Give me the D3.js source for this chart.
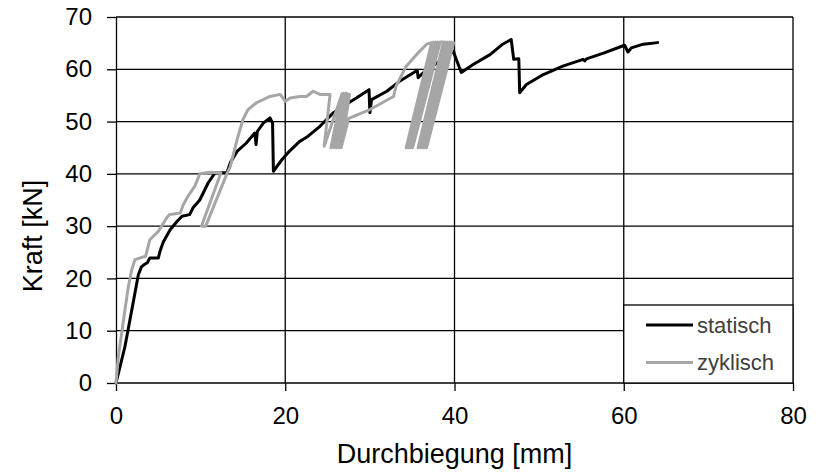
<!DOCTYPE html>
<html>
<head>
<meta charset="utf-8">
<script src="https://cdn.jsdelivr.net/npm/d3@7"></script>
<style>
  html, body { margin: 0; padding: 0; background: #fff; }
  svg { display: block; font-family: Arial, "Liberation Sans", sans-serif; }
</style>
</head>
<body>
<div id="chart"></div>
<script>
// Kraft-Durchbiegungs-Kurven, statisch vs. zyklisch
const xTicks = [0, 20, 40, 60, 80];
const yTicks = [0, 10, 20, 30, 40, 50, 60, 70];

// statisch (schwarz)
const statischWeg = [0, 0.47, 1.06, 1.65, 2.24, 2.64, 3.0, 3.3, 3.7, 4.0, 5.0, 5.2, 5.6, 6.4, 7.2, 7.8, 8.7, 9.1, 9.9, 10.9,
  11.7, 13.1, 13.5, 14.3, 15.4, 16.4, 16.55, 16.7, 17.4, 18.2, 18.5, 18.6, 19.6, 20.3, 21.7, 22.7, 24.1, 25.7, 26.8, 28.4,
  29.9, 30.0, 30.2, 32.0, 33.5, 35.1, 35.6, 35.7, 36.3, 37.1, 38.3, 39.6, 39.9, 40.0, 40.8, 42.2, 44.2, 45.7, 46.7, 46.8,
  47.0, 47.6, 47.7, 48.5, 50.5, 52.8, 55.2, 55.4, 55.6, 57.6, 60.1, 60.5, 60.9, 62.3, 64.0];
const statischKraft = [0, 3.1, 7.0, 12.1, 17.2, 20.7, 22.2, 22.6, 23.0, 23.9, 23.9, 25.2, 27.0, 29.3, 30.9, 31.9, 32.2, 33.5, 35.0, 38.3,
  40.2, 40.2, 42.1, 44.3, 45.9, 47.8, 45.6, 48.1, 49.7, 50.7, 49.7, 40.5, 42.7, 44.0, 46.2, 47.2, 49.1, 51.7, 52.9, 54.5,
  56.1, 51.7, 54.2, 55.8, 57.7, 59.3, 59.8, 58.4, 59.3, 60.3, 61.6, 63.1, 63.5, 62.8, 59.4, 60.9, 62.8, 64.8, 65.7, 64.4,
  61.9, 62.0, 55.5, 57.1, 59.0, 60.6, 61.9, 61.6, 62.0, 63.1, 64.6, 63.3, 64.1, 64.8, 65.1];

// zyklisch (grau), mit Ent- und Wiederbelastungen
const zyklischWeg = [0, 0.27, 0.67, 1.06, 1.46, 1.85, 2.24, 3.2, 3.5, 4.0, 5.0, 6.0, 6.3, 7.6, 7.95, 8.5, 9.3, 9.9, 11.1, 12.4,
  10.1, 10.6, 13.1, 13.5, 14.3, 15.0, 15.6, 16.6, 18.2, 19.4, 20.0, 20.6, 21.7, 22.5, 23.3, 24.1, 25.3,
  24.6, 26.7, 25.4, 26.9, 25.7, 27.2, 26.0, 27.4, 26.3, 27.6, 26.6, 27.5, 30.0, 32.8, 33.1, 34.3, 35.5, 36.7, 37.3,
  34.3, 37.55, 34.55, 37.8, 34.8, 38.05, 35.05, 38.3, 38.7,
  35.7, 38.9, 35.95, 39.15, 36.2, 39.4, 36.45, 39.65, 36.7, 39.9];
const zyklischKraft = [0, 5.0, 9.5, 14.0, 18.4, 21.6, 23.6, 24.1, 24.2, 27.4, 29.0, 31.6, 32.2, 32.5, 34.1, 35.7, 37.6, 40.0, 40.3, 40.2,
  30.0, 30.0, 40.0, 41.4, 46.5, 50.4, 52.3, 53.6, 54.8, 55.2, 53.9, 54.5, 54.8, 54.8, 55.8, 55.2, 55.2,
  45.3, 55.3, 45.0, 55.4, 45.0, 55.4, 45.0, 55.3, 45.0, 55.2, 45.0, 50.6, 52.3, 54.8, 56.8, 60.6, 62.8, 64.8, 65.1,
  45.0, 65.2, 45.0, 65.2, 45.0, 65.2, 45.0, 65.2, 65.2,
  45.0, 65.2, 45.0, 65.2, 45.0, 65.2, 45.0, 65.2, 45.0, 65.1];

const seriesNames = ["statisch", "zyklisch"];
const seriesColors = ["#000000", "#a6a6a6"];

const W = 826, H = 472;
const plot = { left: 116, right: 793, top: 17, bottom: 383 };

const svg = d3.select('#chart').append('svg')
  .attr('width', W)
  .attr('height', H);

const x = d3.scaleLinear().domain([0, 80]).range([plot.left, plot.right]);
const y = d3.scaleLinear().domain([0, 70]).range([plot.bottom, plot.top]);

// Gitter
const grid = svg.append('g').attr('stroke', '#000').attr('stroke-width', 1.3);
grid.selectAll('line.h').data(yTicks.slice(1)).join('line')
  .attr('class', 'h')
  .attr('x1', plot.left).attr('x2', plot.right)
  .attr('y1', d => y(d)).attr('y2', d => y(d));
grid.selectAll('line.v').data(xTicks.slice(1)).join('line')
  .attr('class', 'v')
  .attr('x1', d => x(d)).attr('x2', d => x(d))
  .attr('y1', plot.top).attr('y2', plot.bottom);

// Achsen
const yAxis = svg.append('g')
  .attr('transform', `translate(${plot.left},0)`)
  .call(d3.axisLeft(y).tickValues(yTicks).tickSize(9).tickPadding(15).tickSizeOuter(0));
const xAxis = svg.append('g')
  .attr('transform', `translate(0,${plot.bottom})`)
  .call(d3.axisBottom(x).tickValues(xTicks).tickSize(8).tickPadding(16).tickSizeOuter(0));

[xAxis, yAxis].forEach(a => {
  a.select('.domain').attr('stroke', '#000').attr('stroke-width', 1.3);
  a.selectAll('.tick line').attr('stroke', '#000').attr('stroke-width', 1.3);
  a.selectAll('.tick text')
    .attr('fill', '#000')
    .attr('font-size', 24)
    .attr('font-family', 'Arial, "Liberation Sans", sans-serif');
});
xAxis.select('.domain').remove();
svg.append('line')
  .attr('x1', plot.left).attr('x2', plot.right)
  .attr('y1', plot.bottom).attr('y2', plot.bottom)
  .attr('stroke', '#000').attr('stroke-width', 1.3);

// Kurven
const line = d3.line().x(d => x(d[0])).y(d => y(d[1]));
const statisch = statischWeg.map((v, i) => [v, statischKraft[i]]);
const zyklisch = zyklischWeg.map((v, i) => [v, zyklischKraft[i]]);

[statisch, zyklisch].forEach((pts, i) => {
  svg.append('path')
    .datum(pts)
    .attr('fill', 'none')
    .attr('stroke', seriesColors[i])
    .attr('stroke-width', 3)
    .attr('stroke-linejoin', 'round')
    .attr('stroke-linecap', 'round')
    .attr('d', line);
});

// Legende
const lg = svg.append('g');
lg.append('rect')
  .attr('x', x(60)).attr('y', 305)
  .attr('width', x(80) - x(60)).attr('height', plot.bottom - 305)
  .attr('fill', '#fff')
  .attr('stroke', '#000')
  .attr('stroke-width', 1.3);
seriesNames.forEach((name, i) => {
  const ly = 325 + i * 37.5;
  lg.append('line')
    .attr('x1', 646).attr('x2', 693)
    .attr('y1', ly).attr('y2', ly)
    .attr('stroke', seriesColors[i])
    .attr('stroke-width', 3);
  lg.append('text')
    .attr('x', 697)
    .attr('y', ly)
    .attr('dy', '0.35em')
    .attr('font-size', 22)
    .attr('fill', '#404040')
    .text(name);
});

// Achsentitel
svg.append('text')
  .attr('x', (plot.left + plot.right) / 2)
  .attr('y', 463)
  .attr('text-anchor', 'middle')
  .attr('font-size', 27)
  .attr('fill', '#000')
  .text('Durchbiegung [mm]');
svg.append('text')
  .attr('transform', `translate(42,236) rotate(-90)`)
  .attr('text-anchor', 'middle')
  .attr('font-size', 27)
  .attr('fill', '#000')
  .text('Kraft [kN]');
</script>
</body>
</html>
